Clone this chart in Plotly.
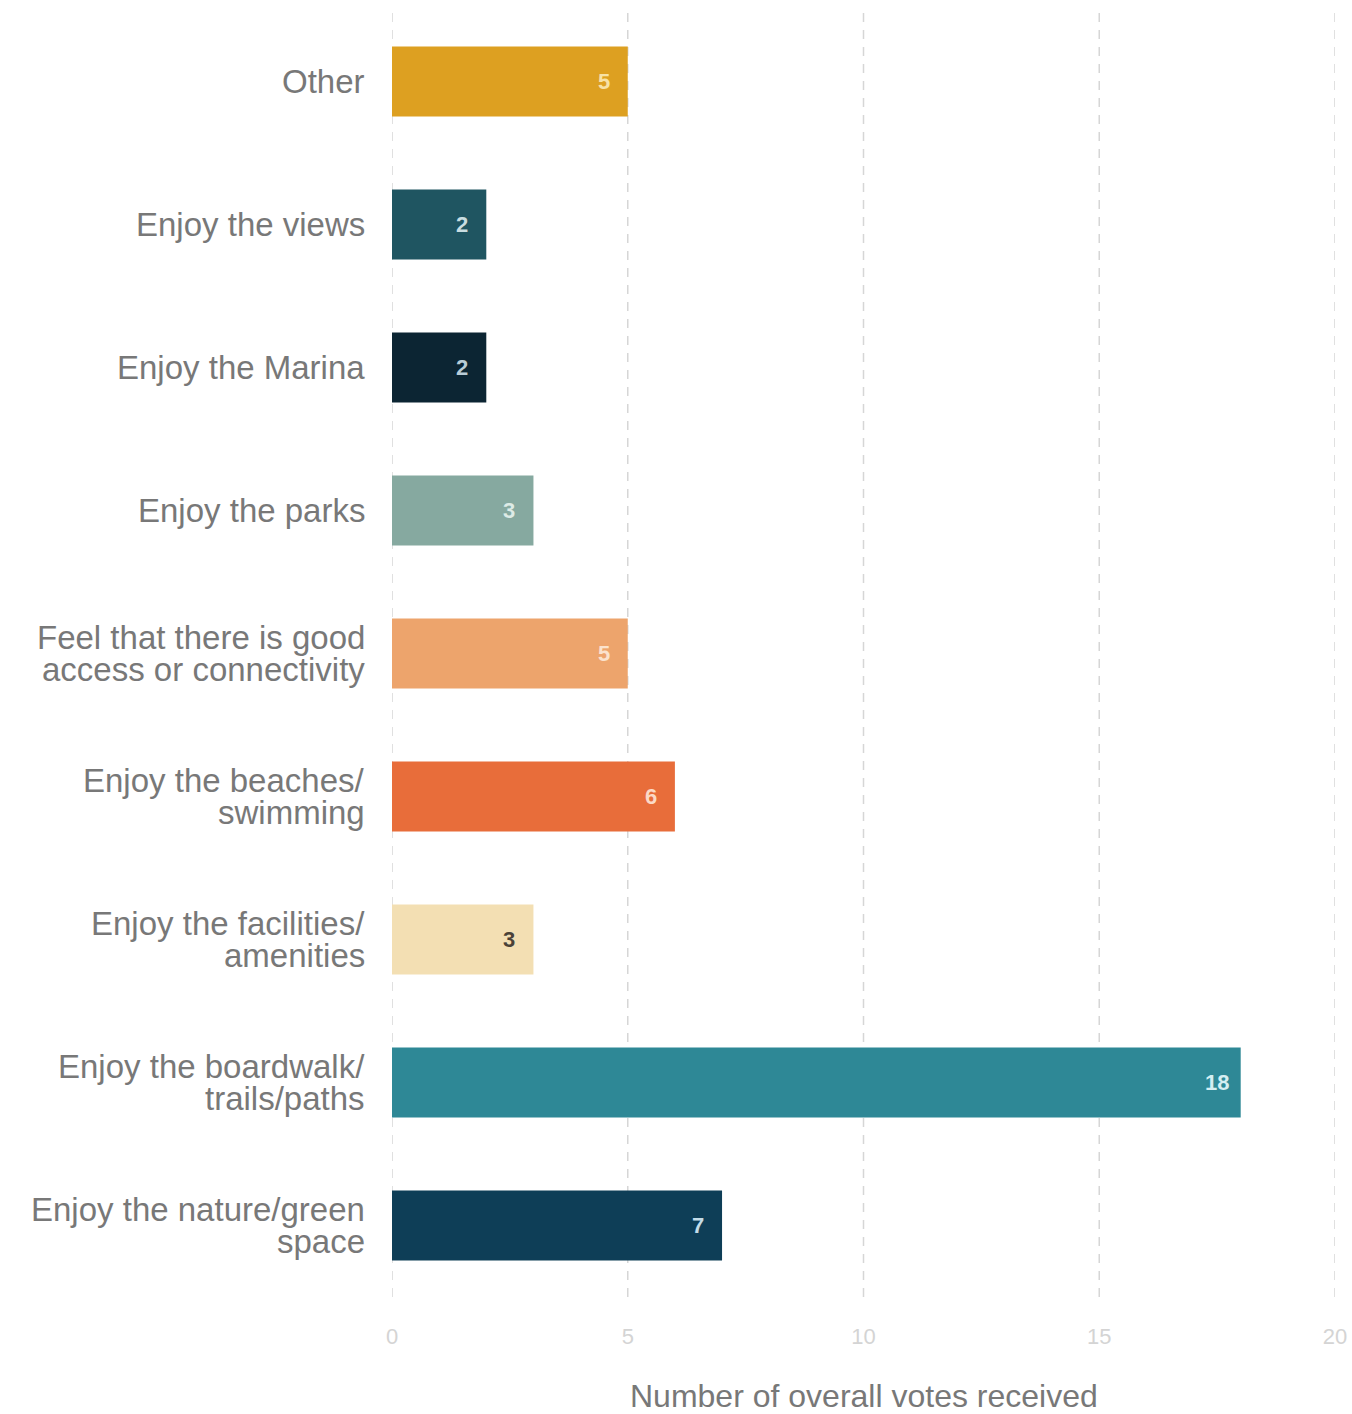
import plotly.graph_objects as go

categories = [
    "Other",
    "Enjoy the views",
    "Enjoy the Marina",
    "Enjoy the parks",
    "Feel that there is good<br>access or connectivity",
    "Enjoy the beaches/<br>swimming",
    "Enjoy the facilities/<br>amenities",
    "Enjoy the boardwalk/<br>trails/paths",
    "Enjoy the nature/green<br>space",
]
votes = [5, 2, 2, 3, 5, 6, 3, 18, 7]
bar_colors = ["#DDA021", "#1F5561", "#0C2533", "#86A9A0", "#EDA46C",
              "#E86D3A", "#F3DFB3", "#2E8896", "#0E3E57"]
value_colors = ["#F7E2A6", "#C9DDE0", "#B9CCD6", "#DDEBE6", "#FBE2CC",
                "#FBD9C6", "#4A4238", "#D4EEF2", "#C3DCE8"]
x_ticks = [0, 5, 10, 15, 20]
x_title = "Number of overall votes received"

FONT = "Liberation Sans, Arial, sans-serif"

fig = go.Figure()
fig.add_trace(go.Bar(
    y=list(range(len(categories))),
    x=votes,
    orientation="h",
    marker=dict(color=bar_colors, line=dict(width=0)),
    width=0.49,
    hoverinfo="skip",
))

# dashed vertical grid lines at each tick (drawn below the bars)
shapes = [
    dict(type="line", xref="x", yref="paper", x0=t, x1=t, y0=0.0, y1=1.0,
         line=dict(color="#D6D6D6", width=1.5, dash="9px,8px"), layer="below")
    for t in x_ticks
]

annotations = []
for i, (cat, v, tc) in enumerate(zip(categories, votes, value_colors)):
    lines = cat.split("<br>")
    n = len(lines)
    for j, line in enumerate(lines):
        shift = (n - 1) * 16 - j * 32
        annotations.append(dict(
            x=0, xref="paper", y=i, yref="y", text=line,
            xanchor="right", yanchor="middle", xshift=-25, yshift=shift,
            showarrow=False, font=dict(family=FONT, size=33, color="#787878"),
        ))
    annotations.append(dict(
        x=v, xref="x", y=i, yref="y", text=f"<b>{v}</b>",
        xanchor="center", yanchor="middle", xshift=-24, yshift=0,
        showarrow=False, font=dict(family=FONT, size=22, color=tc),
    ))

annotations.append(dict(
    x=0.5, xref="paper", y=0, yref="paper", text=x_title,
    xanchor="center", yanchor="middle", yshift=-99, xshift=0,
    showarrow=False, font=dict(family=FONT, size=32, color="#787878"),
))

fig.update_layout(
    width=1352, height=1414,
    margin=dict(l=392, r=17, t=10, b=117),
    paper_bgcolor="white", plot_bgcolor="white",
    showlegend=False,
    annotations=annotations,
    shapes=shapes,
)
fig.update_xaxes(
    range=[0, 20], tickvals=x_ticks, ticktext=[str(t) for t in x_ticks],
    showgrid=False, zeroline=False, showline=False, ticks="",
    tickfont=dict(family=FONT, size=22, color="#D4D4D4"),
    ticklabelstandoff=24, automargin=False, ticklabeloverflow="allow",
)
fig.update_yaxes(
    range=[len(categories) - 0.5, -0.5], showticklabels=False,
    showgrid=False, zeroline=False, showline=False, ticks="",
)

fig.write_html(
    "out.html",
    config={"responsive": False, "displayModeBar": False},
    post_script="document.body.style.margin='0';document.body.style.overflow='hidden';",
)
